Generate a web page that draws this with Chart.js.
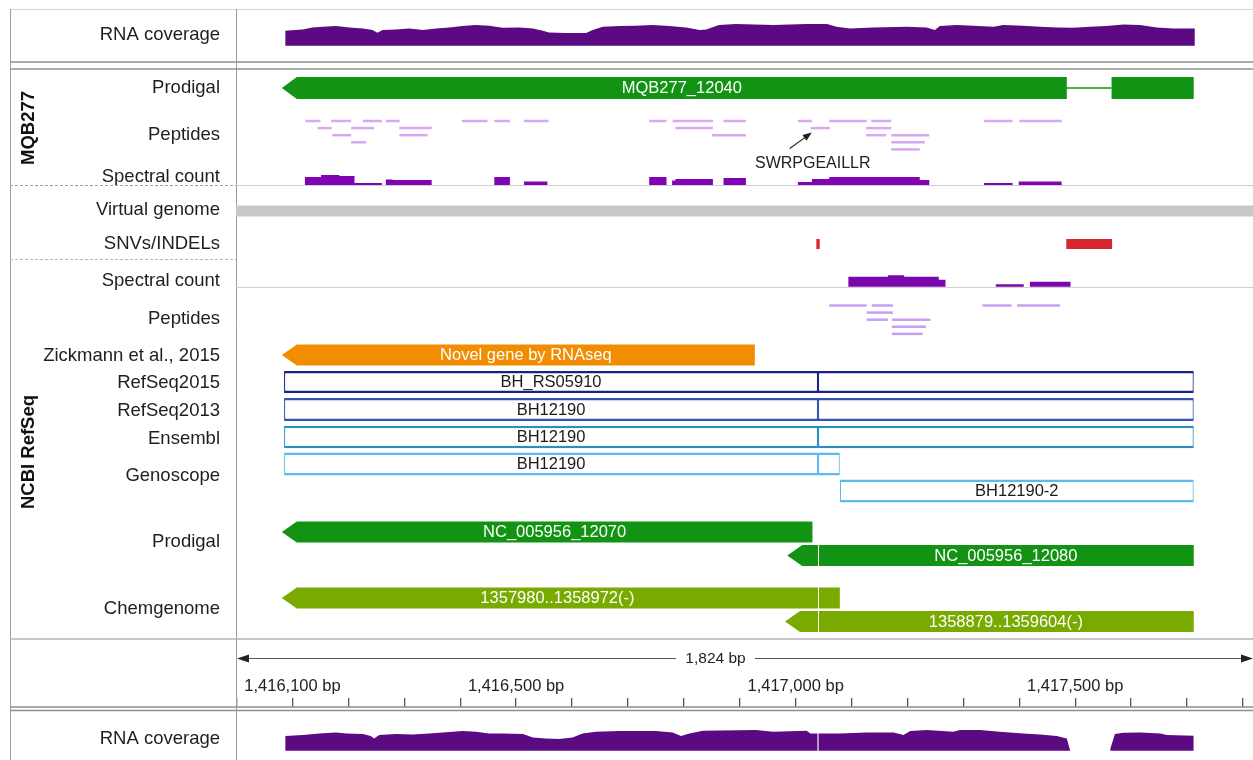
<!DOCTYPE html>
<html>
<head>
<meta charset="utf-8">
<title>BH12190 locus</title>
<script src="https://cdn.jsdelivr.net/npm/chart.js"></script>
<style>
    body {
        margin: 0;
        background: #fff;
    }
    .page {
        position: relative;
        width: 1253px;
        height: 760px;
    }
    .page canvas {
        position: absolute;
        left: 0;
    }
    #tracks { top: 0; }
    #ruler { top: 640px; }
</style>
</head>
<body>
<div class="page">
    <canvas id="tracks" width="1253" height="640"></canvas>
    <canvas id="ruler" width="1253" height="120"></canvas>
</div>

<script>
// ---------- genomic window ----------
const viewStart = 1415999;
const viewEnd = 1417818;
const junction = 1417040;   // split point in the virtual genome
const spanText = '1,824 bp';

const rulerTicks = [1416000, 1416100, 1416200, 1416300, 1416400, 1416500, 1416600, 1416700, 1416800, 1416900,
    1417000, 1417100, 1417200, 1417300, 1417400, 1417500, 1417600, 1417700, 1417800];
const rulerLabels = [1416100, 1416500, 1417000, 1417500];

// ---------- track names ----------
const trackNames = ['RNA coverage', 'Prodigal', 'Peptides', 'Spectral count', 'Virtual genome', 'SNVs/INDELs',
    'Spectral count', 'Peptides', 'Zickmann et al., 2015', 'RefSeq2015', 'RefSeq2013', 'Ensembl', 'Genoscope',
    'Prodigal', 'Chemgenome'];
const bottomTrackNames = ['RNA coverage'];
const groupNames = ['MQB277', 'NCBI RefSeq'];

// ---------- RNA coverage (read depth) ----------
const rnaTopPos = [1416087, 1416087, 1416118, 1416136, 1416154, 1416178, 1416202, 1416226, 1416243, 1416252,
    1416261, 1416285, 1416309, 1416333, 1416357, 1416381, 1416404, 1416428, 1416452, 1416476,
    1416506, 1416530, 1416548, 1416559, 1416589, 1416625, 1416637, 1416655, 1416685, 1416714,
    1416744, 1416774, 1416804, 1416828, 1416840, 1416863, 1416893, 1416960, 1417020, 1417056,
    1417073, 1417097, 1417139, 1417199, 1417234, 1417249, 1417258, 1417288, 1417318, 1417354,
    1417371, 1417407, 1417437, 1417467, 1417497, 1417526, 1417556, 1417586, 1417616, 1417646,
    1417675, 1417714, 1417714];
const rnaTopDepth = [0, 150, 163, 183, 190, 197, 183, 173, 157, 130,
    157, 163, 173, 157, 173, 183, 197, 207, 200, 180,
    183, 173, 150, 133, 127, 127, 157, 190, 197, 200,
    207, 197, 183, 157, 163, 207, 217, 207, 217, 217,
    190, 173, 183, 190, 183, 157, 197, 207, 200, 190,
    207, 200, 190, 183, 180, 190, 197, 213, 207, 183,
    173, 173, 0];

const rnaBottomPos = [1416087, 1416087, 1416118, 1416148, 1416178, 1416196, 1416226, 1416240, 1416246, 1416255,
    1416285, 1416315, 1416345, 1416369, 1416404, 1416428, 1416452, 1416476, 1416512, 1416530,
    1416553, 1416577, 1416601, 1416619, 1416643, 1416685, 1416714, 1416750, 1416780, 1416795,
    1416810, 1416834, 1416929, 1416960, 1417020, 1417026, 1417039, 1417039, 1417041, 1417041,
    1417079, 1417127, 1417175, 1417193, 1417205, 1417234, 1417282, 1417294, 1417330, 1417365,
    1417407, 1417437, 1417467, 1417485, 1417491, 1417563, 1417563, 1417571, 1417586, 1417616,
    1417652, 1417664, 1417712, 1417712];
const rnaBottomDepth = [0, 147, 157, 173, 183, 173, 167, 147, 123, 157,
    167, 163, 173, 183, 197, 190, 173, 173, 167, 133,
    123, 117, 133, 173, 190, 197, 197, 197, 183, 147,
    173, 200, 207, 190, 200, 173, 173, 0, 0, 173,
    173, 183, 183, 157, 197, 207, 190, 207, 207, 190,
    173, 163, 147, 123, 0, 0, 23, 167, 180, 183,
    173, 157, 150, 0];

// ---------- spectral counts ----------
const mqSpecStart = [1416122, 1416151, 1416184, 1416211, 1416267, 1416279, 1416461, 1416514, 1416738,
    1416779, 1416785, 1416871, 1417004, 1417029, 1417060, 1417222, 1417337, 1417399];
const mqSpecEnd = [1416151, 1416184, 1416211, 1416260, 1416279, 1416349, 1416489, 1416556, 1416769,
    1416785, 1416852, 1416911, 1417029, 1417060, 1417222, 1417239, 1417388, 1417476];
const mqSpecCount = [8, 10, 9, 2, 5.5, 5, 8, 3.5, 8, 4.5, 6, 7, 3, 6, 8, 5, 2, 3.5];

const ncbiSpecStart = [1417094, 1417165, 1417194, 1417256, 1417358, 1417419];
const ncbiSpecEnd = [1417165, 1417194, 1417256, 1417268, 1417408, 1417492];
const ncbiSpecCount = [10, 11.5, 10, 7, 2.5, 5];

// ---------- peptides ----------
const mqPepStart = [1416123, 1416169, 1416226, 1416267, 1416403, 1416461, 1416514, 1416738, 1416780, 1416871,
    1417004, 1417060, 1417135, 1417337, 1417400,
    1416145, 1416205, 1416291, 1416785, 1417027, 1417126,
    1416171, 1416291, 1416850, 1417126, 1417171,
    1416205, 1417171,
    1417171];
const mqPepEnd = [1416150, 1416205, 1416260, 1416292, 1416449, 1416489, 1416558, 1416769, 1416852, 1416911,
    1417029, 1417127, 1417171, 1417388, 1417476,
    1416170, 1416246, 1416349, 1416852, 1417061, 1417171,
    1416205, 1416342, 1416911, 1417162, 1417239,
    1416232, 1417231,
    1417222];
const mqPepRow = [0, 0, 0, 0, 0, 0, 0, 0, 0, 0, 0, 0, 0, 0, 0,
    1, 1, 1, 1, 1, 1,
    2, 2, 2, 2, 2,
    3, 3,
    4];

const ncbiPepStart = [1417060, 1417136, 1417334, 1417396, 1417127, 1417127, 1417172, 1417172, 1417172];
const ncbiPepEnd = [1417127, 1417174, 1417386, 1417473, 1417174, 1417165, 1417241, 1417233, 1417227];
const ncbiPepRow = [0, 0, 0, 0, 1, 2, 2, 3, 4];

const notedPeptide = 'SWRPGEAILLR';
const notedPeptideStart = 1417027;

// ---------- variants ----------
const variantStart = [1417037, 1417484];
const variantEnd = [1417043, 1417566];

// ---------- gene models, one entry per drawn piece ----------
const featTrack = ['mqProdigal', 'mqProdigal', 'zickmann',
    'refseq2015', 'refseq2015', 'refseq2013', 'refseq2013', 'ensembl', 'ensembl',
    'genoscope', 'genoscope', 'genoscope2',
    'prodigalA', 'prodigalB', 'prodigalB', 'chemA', 'chemA', 'chemB', 'chemB'];
const featStart = [1416081, 1417565, 1416081,
    1416085, 1417040, 1416085, 1417040, 1416085, 1417040,
    1416085, 1417040, 1417079,
    1416081, 1416985, 1417040, 1416081, 1417040, 1416981, 1417040];
const featEnd = [1417485, 1417712, 1416927,
    1417040, 1417712, 1417040, 1417712, 1417040, 1417712,
    1417040, 1417079, 1417712,
    1417030, 1417040, 1417712, 1417040, 1417079, 1417040, 1417712];
const featLabel = ['MQB277_12040', '', 'Novel gene by RNAseq',
    'BH_RS05910', '', 'BH12190', '', 'BH12190', '',
    'BH12190', '', 'BH12190-2',
    'NC_005956_12070', '', 'NC_005956_12080', '1357980..1358972(-)', '', '', '1358879..1359604(-)'];
const featTip = [true, false, true,
    false, false, false, false, false, false,
    false, false, false,
    true, true, false, true, false, true, false];

// ---------- layout and style ----------
const FONT = '"Liberation Sans", Arial, Helvetica, sans-serif';
const PLOT_LEFT = 236;
const trackLabelY = [34.5, 87.5, 134.5, 177, 210, 244, 281, 318.5, 355.5, 383, 411, 438.5, 476, 542, 608.5];
const bottomLabelY = [739];
const groupLabelY = [128, 452];

const depthPx = 0.1;      // pixels per unit of read depth
const countPx = 1;        // pixels per spectral count
const pepStep = 7.1;

const trackDefs = {
    mqProdigal: { y: 88, h: 22, kind: 'gene', color: '#139313' },
    zickmann:   { y: 355, h: 21, kind: 'gene', color: '#f28c00' },
    refseq2015: { y: 382, h: 22, kind: 'box', color: '#1c2189' },
    refseq2013: { y: 409.5, h: 23, kind: 'box', color: '#3551b3' },
    ensembl:    { y: 437, h: 22.5, kind: 'box', color: '#2b8dc0' },
    genoscope:  { y: 464, h: 23, kind: 'box', color: '#5bbbef' },
    genoscope2: { y: 491, h: 23, kind: 'box', color: '#5bbbef' },
    prodigalA:  { y: 532, h: 21, kind: 'gene', color: '#139313' },
    prodigalB:  { y: 555.5, h: 21, kind: 'gene', color: '#139313' },
    chemA:      { y: 598, h: 21, kind: 'gene', color: '#79aa00' },
    chemB:      { y: 621.5, h: 21, kind: 'gene', color: '#79aa00' }
};

const tracksFrame = [
    [10, 9.5, 1253, 9.5, '#d4d4d4', 1],
    [10, 62, 1253, 62, '#8f8f8f', 1.5],
    [10, 69, 1253, 69, '#8f8f8f', 1.5],
    [10.5, 9, 10.5, 640, '#9d9d9d', 1],
    [236.5, 9, 236.5, 640, '#9d9d9d', 1],
    [10, 185.5, 236, 185.5, '#a0a0a0', 1, [3, 2]],
    [236, 185.5, 1253, 185.5, '#d0d0d0', 1],
    [10, 259.5, 236, 259.5, '#b8b8b8', 1, [3, 2]],
    [236, 287.5, 1253, 287.5, '#d0d0d0', 1],
    [10, 639, 1253, 639, '#b4b4b4', 1.5]
];
const rulerFrame = [
    [10.5, 640, 10.5, 760, '#9d9d9d', 1],
    [236.5, 640, 236.5, 760, '#9d9d9d', 1],
    [10, 707, 1253, 707, '#8f8f8f', 1.5],
    [10, 710.5, 1253, 710.5, '#8f8f8f', 1.5]
];

// ---------- gene shapes: bars with a pointed 5' end ----------
class GeneController extends Chart.BarController {
    draw() {
        const ctx = this.chart.ctx;
        const ds = this.getDataset();
        this._cachedMeta.data.forEach((bar, i) => {
            const item = ds.data[i];
            let left = Math.min(bar.x, bar.base);
            const right = Math.max(bar.x, bar.base);
            const top = bar.y - bar.height / 2;
            const bottom = bar.y + bar.height / 2;
            if (item.x[0] === junction) left += 1;   // thin gap at the genome split
            ctx.save();
            ctx.beginPath();
            if (item.tip) {
                ctx.moveTo(left, bar.y);
                ctx.lineTo(left + ds.tipLength, top);
                ctx.lineTo(right, top);
                ctx.lineTo(right, bottom);
                ctx.lineTo(left + ds.tipLength, bottom);
            } else {
                ctx.rect(left, top, right - left, bottom - top);
            }
            ctx.closePath();
            ctx.fillStyle = ds.backgroundColor;
            ctx.fill();
            ctx.restore();
        });
    }
}
GeneController.id = 'gene';
GeneController.defaults = Chart.BarController.defaults;
Chart.register(GeneController);

// ---------- helpers ----------
function bandAxis(base, k, top, bottom) {
    // value 0 sits on the track baseline, k pixels per unit
    return { type: 'linear', axis: 'y', position: 'left', display: false,
             min: -(bottom - base) / k, max: (base - top) / k };
}

function labelAxis(names, ys, top, bottom) {
    return {
        type: 'linear', axis: 'y', position: 'left', reverse: true, min: top, max: bottom, offset: false,
        grid: { display: false, drawTicks: false },
        border: { display: false },
        ticks: {
            autoSkip: false, padding: 16, color: '#1e1e1e',
            font: { family: FONT, size: 18.5 },
            callback: (v, i) => names[i]
        },
        afterBuildTicks: s => { s.ticks = ys.map(v => ({ value: v })); },
        afterFit: s => { s.width = PLOT_LEFT; s.paddingTop = 0; s.paddingBottom = 0; }
    };
}

const toPoints = (xs, ys) => xs.map((x, i) => ({ x, y: ys[i] }));
const stepPoints = (s, e, v) => s.flatMap((x, i) => [{ x, y: v[i] }, { x: e[i], y: 0 }]);

function areaSet(points, axis, color, stepped) {
    return { type: 'line', data: points, yAxisID: axis, fill: 'origin', backgroundColor: color,
             borderColor: 'rgba(0,0,0,0)', borderWidth: 1, pointRadius: 0, tension: 0,
             stepped: stepped || false };
}

function barSet(data, thick, color, extra) {
    return Object.assign({ type: 'bar', indexAxis: 'y', yAxisID: 'rows', grouped: false, data,
        barThickness: thick, backgroundColor: color, borderWidth: 0, borderSkipped: false,
        inflateAmount: 0 }, extra || {});
}

function drawLines(ctx, lines, offsetY) {
    lines.forEach(([x1, y1, x2, y2, color, width, dash]) => {
        ctx.save();
        ctx.strokeStyle = color;
        ctx.lineWidth = width;
        ctx.setLineDash(dash || []);
        ctx.beginPath();
        ctx.moveTo(x1, y1 - offsetY);
        ctx.lineTo(x2, y2 - offsetY);
        ctx.stroke();
        ctx.restore();
    });
}

function frame(lines, offsetY) {
    return {
        id: 'frame',
        beforeDatasetsDraw(chart) { drawLines(chart.ctx, lines, offsetY); }
    };
}

// ---------- datasets ----------
const mqPeptides = mqPepStart.map((s, i) => ({ x: [s, mqPepEnd[i]], y: 121 + mqPepRow[i] * pepStep }));
const ncbiPeptides = ncbiPepStart.map((s, i) => ({ x: [s, ncbiPepEnd[i]], y: 305.5 + ncbiPepRow[i] * pepStep }));

const featureSets = Object.entries(trackDefs).map(([key, t]) => {
    const data = [];
    featTrack.forEach((k, i) => {
        if (k === key) data.push({ x: [featStart[i], featEnd[i]], y: t.y, label: featLabel[i], tip: featTip[i] });
    });
    if (t.kind === 'gene') {
        return { type: 'gene', indexAxis: 'y', yAxisID: 'rows', grouped: false, data,
                 barThickness: t.h, backgroundColor: t.color, tipLength: 15, labelColor: '#ffffff' };
    }
    return barSet(data, t.h, '#ffffff', {
        borderColor: t.color, borderWidth: { top: 2.5, bottom: 2.5, left: 1.2, right: 1.2 },
        labelColor: '#1a1a1a'
    });
});

// thin lines joining separated pieces of one gene
const connectors = [];
Object.entries(trackDefs).forEach(([key, t]) => {
    if (t.kind !== 'gene') return;
    const idx = featTrack.map((k, i) => (k === key ? i : -1)).filter(i => i >= 0);
    for (let j = 1; j < idx.length; j++) {
        const a = featEnd[idx[j - 1]];
        const b = featStart[idx[j]];
        if (b > a) connectors.push({ x: [a, b], y: t.y, color: t.color });
    }
});

const trackDatasets = [
    areaSet(toPoints(rnaTopPos, rnaTopDepth), 'covTop', '#5b0a82'),
    areaSet(stepPoints(mqSpecStart, mqSpecEnd, mqSpecCount), 'specMq', '#8004b4', 'before'),
    barSet(mqPeptides, 2.5, '#d9a7f7', { noteSource: true }),
    barSet([{ x: [viewStart, viewEnd], y: 211 }], 11, '#c8c8c8'),
    barSet(variantStart.map((s, i) => ({ x: [s, variantEnd[i]], y: 244 })), 10, '#d82630'),
    areaSet(stepPoints(ncbiSpecStart, ncbiSpecEnd, ncbiSpecCount), 'specNcbi', '#7c06ae', 'before'),
    barSet(ncbiPeptides, 2.5, '#c9a0ef'),
    barSet(connectors.map(c => ({ x: c.x, y: c.y })), 1.5, connectors.map(c => c.color)),
    ...featureSets
];

// ---------- plugins ----------
const featureLabels = {
    id: 'featureLabels',
    afterDatasetsDraw(chart) {
        const ctx = chart.ctx;
        chart.data.datasets.forEach((ds, di) => {
            if (!ds.labelColor) return;
            chart.getDatasetMeta(di).data.forEach((bar, i) => {
                const item = ds.data[i];
                if (!item.label) return;
                let left = Math.min(bar.x, bar.base);
                const right = Math.max(bar.x, bar.base);
                if (item.tip) left += ds.tipLength;
                ctx.save();
                ctx.font = '16.5px ' + FONT;
                ctx.fillStyle = ds.labelColor;
                ctx.textAlign = 'center';
                ctx.textBaseline = 'middle';
                ctx.fillText(item.label, (left + right) / 2, bar.y + 0.5);
                ctx.restore();
            });
        });
    }
};

const trackNotes = {
    id: 'trackNotes',
    afterDatasetsDraw(chart) {
        const ctx = chart.ctx;
        // arrow pointing at the noted peptide
        const di = chart.data.datasets.findIndex(d => d.noteSource);
        const bar = chart.getDatasetMeta(di).data[mqPepStart.indexOf(notedPeptideStart)];
        const tipX = Math.min(bar.x, bar.base) + 1;
        const tipY = bar.y + 4.5;
        const tailX = tipX - 22;
        const tailY = tipY + 16;
        const ang = Math.atan2(tipY - tailY, tipX - tailX);
        ctx.save();
        ctx.strokeStyle = '#222';
        ctx.fillStyle = '#222';
        ctx.lineWidth = 1.2;
        ctx.beginPath();
        ctx.moveTo(tailX, tailY);
        ctx.lineTo(tipX - 6 * Math.cos(ang), tipY - 6 * Math.sin(ang));
        ctx.stroke();
        ctx.beginPath();
        ctx.moveTo(tipX, tipY);
        ctx.lineTo(tipX - 9 * Math.cos(ang) + 3.5 * Math.sin(ang), tipY - 9 * Math.sin(ang) - 3.5 * Math.cos(ang));
        ctx.lineTo(tipX - 9 * Math.cos(ang) - 3.5 * Math.sin(ang), tipY - 9 * Math.sin(ang) + 3.5 * Math.cos(ang));
        ctx.closePath();
        ctx.fill();
        ctx.font = '16px ' + FONT;
        ctx.textAlign = 'center';
        ctx.textBaseline = 'middle';
        ctx.fillText(notedPeptide, tipX + 1, tipY + 30.5);

        // rotated group names in the label column
        ctx.font = 'bold 18.5px ' + FONT;
        ctx.fillStyle = '#111';
        groupNames.forEach((name, i) => {
            ctx.save();
            ctx.translate(29, groupLabelY[i]);
            ctx.rotate(-Math.PI / 2);
            ctx.fillText(name, 0, 0);
            ctx.restore();
        });
        ctx.restore();
    }
};

const spanArrow = {
    id: 'spanArrow',
    beforeDatasetsDraw(chart) {
        const ctx = chart.ctx;
        const y = 18;
        const { left, right } = chart.chartArea;
        ctx.save();
        ctx.strokeStyle = '#555';
        ctx.fillStyle = '#222';
        ctx.lineWidth = 1;
        ctx.beginPath();
        ctx.moveTo(left + 10, y + 0.5);
        ctx.lineTo(676, y + 0.5);
        ctx.moveTo(755, y + 0.5);
        ctx.lineTo(right - 10, y + 0.5);
        ctx.stroke();
        ctx.beginPath();
        ctx.moveTo(left + 1, y + 0.5);
        ctx.lineTo(left + 13, y - 3.5);
        ctx.lineTo(left + 13, y + 4.5);
        ctx.closePath();
        ctx.moveTo(right, y + 0.5);
        ctx.lineTo(right - 12, y - 3.5);
        ctx.lineTo(right - 12, y + 4.5);
        ctx.closePath();
        ctx.fill();
        ctx.font = '15.5px ' + FONT;
        ctx.textAlign = 'center';
        ctx.textBaseline = 'middle';
        ctx.fillText(spanText, 715.5, y + 0.5);
        ctx.restore();
    }
};

const common = {
    responsive: false,
    animation: false,
    devicePixelRatio: 1,
    events: [],
    layout: { padding: 0, autoPadding: false },
    plugins: { legend: { display: false }, tooltip: { enabled: false } }
};

// ---------- feature tracks ----------
new Chart(document.getElementById('tracks'), {
    type: 'line',
    data: { datasets: trackDatasets },
    options: Object.assign({}, common, {
        scales: {
            x: { type: 'linear', axis: 'x', min: viewStart, max: viewEnd, offset: false, stacked: false, display: false },
            rows: labelAxis(trackNames, trackLabelY, 0, 640),
            covTop: bandAxis(45.7, depthPx, 0, 640),
            specMq: bandAxis(185, countPx, 0, 640),
            specNcbi: bandAxis(286.7, countPx, 0, 640)
        }
    }),
    plugins: [frame(tracksFrame, 0), featureLabels, trackNotes]
});

// ---------- ruler and lower coverage ----------
new Chart(document.getElementById('ruler'), {
    type: 'line',
    data: { datasets: [areaSet(toPoints(rnaBottomPos, rnaBottomDepth), 'covBottom', '#5b0a82')] },
    options: Object.assign({}, common, {
        scales: {
            x: {
                type: 'linear', axis: 'x', position: 'top', min: viewStart, max: viewEnd, offset: false,
                grid: { drawOnChartArea: false, drawTicks: true, tickLength: 9, color: '#555', lineWidth: 1.3 },
                border: { display: false },
                ticks: {
                    autoSkip: false, maxRotation: 0, minRotation: 0, padding: 1.5, color: '#222',
                    font: { family: FONT, size: 16.5 },
                    callback: v => rulerLabels.includes(v) ? v.toLocaleString('en-US') + ' bp' : ''
                },
                afterBuildTicks: s => { s.ticks = rulerTicks.map(v => ({ value: v })); },
                afterFit: s => { s.height = 67; s.paddingLeft = 0; s.paddingRight = 0; }
            },
            rows: labelAxis(bottomTrackNames, bottomLabelY, 707, 760),
            covBottom: bandAxis(750.7, depthPx, 707, 760)
        }
    }),
    plugins: [frame(rulerFrame, 640), spanArrow]
});
</script>
</body>
</html>
